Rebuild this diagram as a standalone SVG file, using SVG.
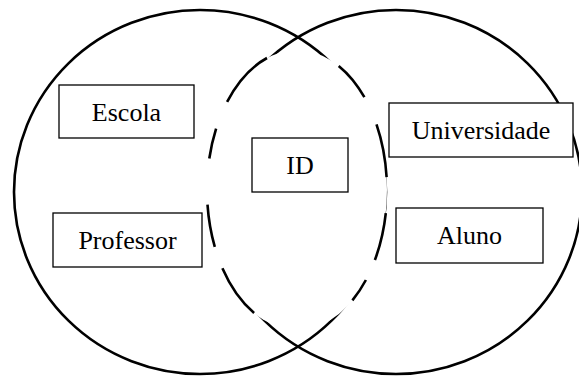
<svg xmlns="http://www.w3.org/2000/svg" width="579" height="376" viewBox="0 0 579 376">
  <style>
    .set { fill: none; stroke: #000; stroke-width: 2.6; }
    .overlap-fill { fill: #fff; stroke: none; }
    .dash { fill: none; stroke: #000; stroke-width: 2.6; }
    .box { fill: #fff; stroke: #000; stroke-width: 1.3; }
    .lbl { font-family: "Liberation Serif", "Times New Roman", serif; font-size: 26px; fill: #000; text-anchor: middle; }
  </style>
  <rect width="579" height="376" fill="#fff"/>
  <g id="sets">
    <ellipse id="set-left" class="set" cx="200" cy="192" rx="186" ry="182"/>
    <ellipse id="set-right" class="set" cx="396" cy="192" rx="186" ry="182"/>
    <g id="set-overlap">
      <ellipse class="overlap-fill" cx="297" cy="190" rx="90" ry="140"/>
      <path class="dash" d="M338.7 65.9 A90 140 0 0 1 364.4 97.2
                            M376.5 124.3 A90 140 0 0 1 386.6 177.1
                            M385.8 213.1 A90 140 0 0 1 374.9 260
                            M365.9 280 A90 140 0 0 1 352.4 300.3
                            M254.1 313 A90 140 0 0 1 222.4 268.3
                            M214.8 246.9 A90 140 0 0 1 207.5 204.6
                            M209.3 158.5 A90 140 0 0 1 216.1 128.6
                            M227.1 101.9 A90 140 0 0 1 267 58"/>
    </g>
  </g>
  <g id="connectors"></g>
  <g id="escola">
    <rect class="box" x="59" y="85" width="135" height="53"/>
    <text class="lbl" x="126.5" y="120.5">Escola</text>
  </g>
  <g id="professor">
    <rect class="box" x="53" y="213" width="149" height="54"/>
    <text class="lbl" x="127.5" y="249">Professor</text>
  </g>
  <g id="id">
    <rect class="box" x="252" y="138" width="96" height="54"/>
    <text class="lbl" x="300" y="174">ID</text>
  </g>
  <g id="universidade">
    <rect class="box" x="389" y="103" width="184" height="54"/>
    <text class="lbl" x="481" y="139">Universidade</text>
  </g>
  <g id="aluno">
    <rect class="box" x="396" y="208" width="147" height="55"/>
    <text class="lbl" x="469.5" y="244">Aluno</text>
  </g>
</svg>
